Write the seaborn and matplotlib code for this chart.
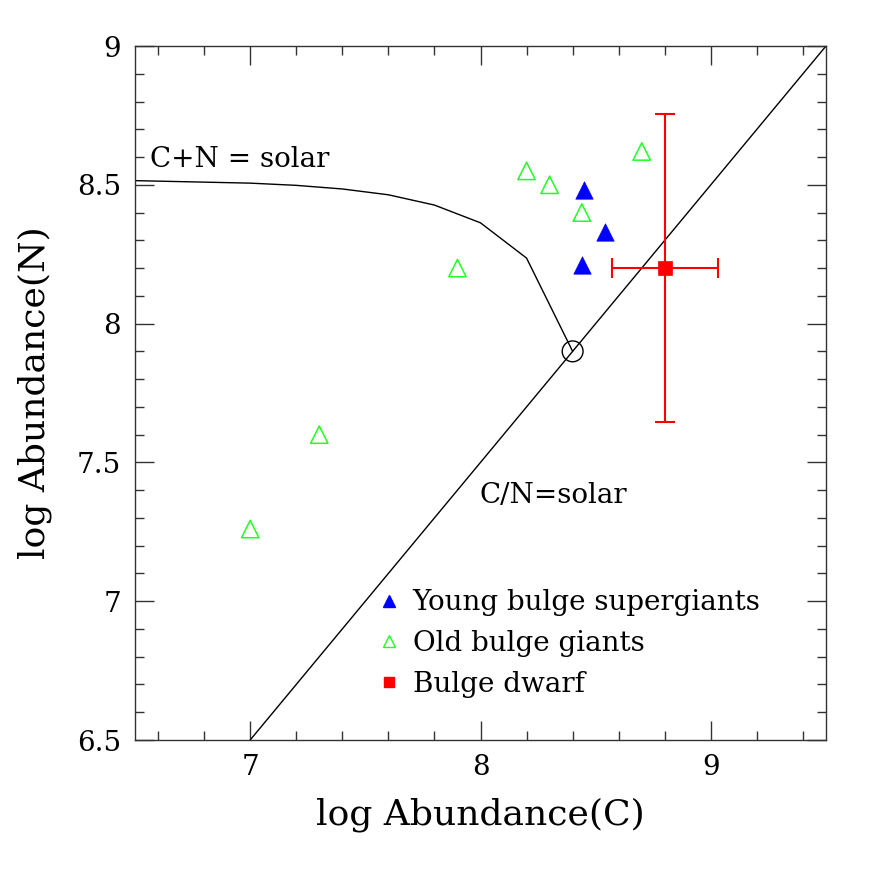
import numpy as np
import pandas as pd
import seaborn as sns
import matplotlib
matplotlib.use('Agg')
import matplotlib.pyplot as plt
from matplotlib.ticker import MultipleLocator, FixedLocator
from matplotlib.lines import Line2D

# ---- data ----
young_C = [8.45, 8.54, 8.44]
young_N = [8.48, 8.33, 8.21]
old_C = [7.00, 7.30, 7.90, 8.20, 8.30, 8.44, 8.70]
old_N = [7.26, 7.60, 8.20, 8.55, 8.50, 8.40, 8.62]
dwarf_C = [8.80]
dwarf_N = [8.20]
dwarf_Cerr = [0.23]
dwarf_Nerr = [0.555]
solar_C = [8.40]
solar_N = [7.90]
sum_C = [6.5, 7.0, 7.2, 7.4, 7.6, 7.8, 8.0, 8.2, 8.4]
sum_N = [8.515, 8.506, 8.498, 8.485, 8.464, 8.427, 8.363, 8.236, 7.90]
ratio_C = [7.0, 9.5]
ratio_N = [6.5, 9.0]
labels = ["Young bulge supergiants", "Old bulge giants", "Bulge dwarf"]
xticks = [7, 8, 9]
xticklabels = ['7', '8', '9']
yticks = [6.5, 7.0, 7.5, 8.0, 8.5, 9.0]
yticklabels = ['6.5', '7', '7.5', '8', '8.5', '9']

sns.set_theme(style="ticks")
plt.rcParams['font.family'] = ['DejaVu Serif']
plt.rcParams['text.color'] = 'black'
plt.rcParams['axes.labelcolor'] = 'black'

fig = plt.figure(figsize=(8.72, 8.72), dpi=100)
ax = fig.add_axes([135/872, 132/872, 691/872, 694/872])

# lines
sns.lineplot(x=sum_C, y=sum_N, sort=False, estimator=None, color='black', lw=1.0, ax=ax)
sns.lineplot(x=ratio_C, y=ratio_N, sort=False, estimator=None, color='black', lw=1.0, ax=ax)

# solar point
sns.scatterplot(x=solar_C, y=solar_N, marker='o', s=15**2, facecolor='none',
                edgecolor='black', linewidth=1.0, ax=ax, zorder=5)

# old giants
sns.scatterplot(x=old_C, y=old_N, marker='^', s=12.5**2, facecolor='none',
                edgecolor='#22ff22', linewidth=1.1, ax=ax, zorder=5)
# young supergiants
sns.scatterplot(x=young_C, y=young_N, marker='^', s=12.5**2, color='blue',
                edgecolor='blue', linewidth=0.5, ax=ax, zorder=5)
# dwarf with error bars
ax.errorbar(dwarf_C, dwarf_N, xerr=dwarf_Cerr, yerr=dwarf_Nerr, fmt='none',
            ecolor='red', elinewidth=1.5, capsize=7, capthick=1.5, zorder=4)
sns.scatterplot(x=dwarf_C, y=dwarf_N, marker='s', s=10**2, color='red',
                edgecolor='red', linewidth=0.5, ax=ax, zorder=6)

ax.set_xlim(6.5, 9.5)
ax.set_ylim(6.5, 9.0)
ax.xaxis.set_major_locator(FixedLocator(xticks))
ax.xaxis.set_minor_locator(MultipleLocator(0.2))
ax.yaxis.set_major_locator(FixedLocator(yticks))
ax.yaxis.set_minor_locator(MultipleLocator(0.1))
ax.set_xticklabels(xticklabels)
ax.set_yticklabels(yticklabels)

ax.tick_params(which='both', direction='in', top=True, right=True,
               color='#333333', width=1.0, labelsize=20, labelcolor='black')
ax.tick_params(which='major', length=13.5, pad=10)
ax.tick_params(which='minor', length=6.5)
for sp in ax.spines.values():
    sp.set_color('#333333')
    sp.set_linewidth(1.0)

ax.set_xlabel('log Abundance(C)', fontsize=26, labelpad=12)
ax.set_ylabel('log Abundance(N)', fontsize=26, labelpad=18)

ax.text(6.565, 8.59, 'C+N = solar', fontsize=20, ha='left', va='center')
ax.text(7.995, 7.38, 'C/N=solar', fontsize=20, ha='left', va='center')

handles = [
    Line2D([], [], marker='^', ls='none', color='blue', markersize=8.5),
    Line2D([], [], marker='^', ls='none', markerfacecolor='none',
           markeredgecolor='#22ff22', markeredgewidth=1.0, markersize=8.5),
    Line2D([], [], marker='s', ls='none', color='red', markersize=6.5),
]
ax.legend(handles, labels, loc='upper left', bbox_to_anchor=(0.3495, 0.217),
          frameon=False, fontsize=20, handlelength=0.9, handletextpad=0.4,
          labelspacing=0.49, borderpad=0, borderaxespad=0)

fig.savefig('out.png', dpi=100)
